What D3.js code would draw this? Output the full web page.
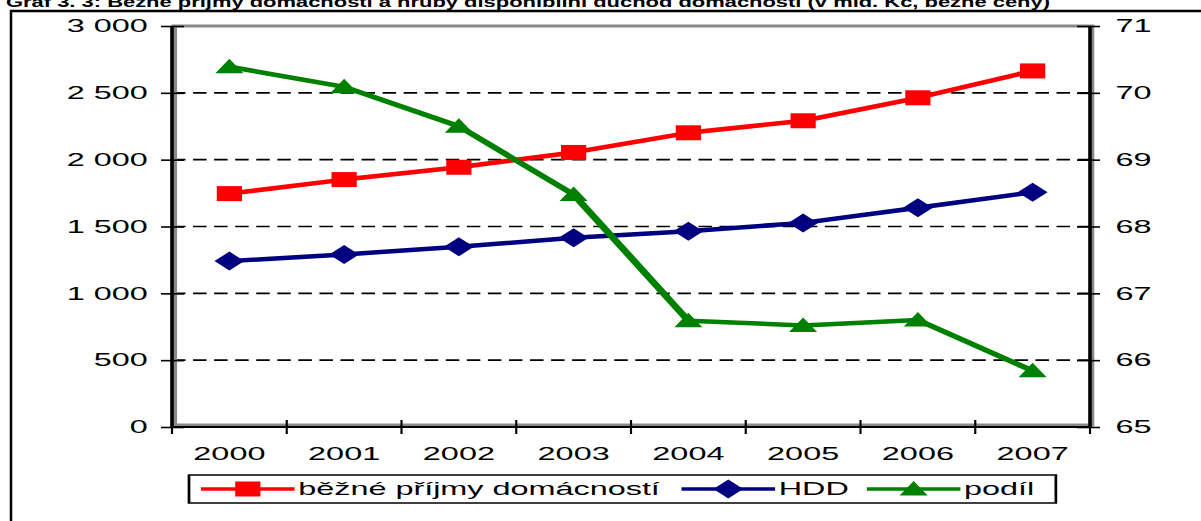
<!DOCTYPE html>
<html>
<head>
<meta charset="utf-8">
<script src="https://cdn.jsdelivr.net/npm/d3@7"></script>
<style>
  html, body { margin: 0; padding: 0; background: #fff; }
  svg { display: block; }
  text { font-family: Arial, "Liberation Sans", sans-serif; }
</style>
</head>
<body>
<svg id="chart" width="1201" height="521"></svg>
<script>
// ---- data ----
const years = ["2000", "2001", "2002", "2003", "2004", "2005", "2006", "2007"];
const prijmy = [1746, 1851, 1943, 2054, 2201, 2291, 2463, 2664];   // běžné příjmy domácností
const hdd    = [1241, 1291, 1348, 1416, 1465, 1527, 1640, 1756];   // HDD
const podil  = [70.39, 70.09, 69.50, 68.48, 66.59, 66.52, 66.60, 65.84]; // podíl (right axis)
const leftTicks = [0, 500, 1000, 1500, 2000, 2500, 3000];
const leftTickLabels = ["0", "500", "1 000", "1 500", "2 000", "2 500", "3 000"];
const rightTicks = [65, 66, 67, 68, 69, 70, 71];
const rightTickLabels = ["65", "66", "67", "68", "69", "70", "71"];
const seriesNames = ["běžné příjmy domácností", "HDD", "podíl"];
const seriesColors = ["#ff0000", "#000080", "#008000"];
const titleText = "Graf 3. 3: Běžné příjmy domácností a hrubý disponibilní důchod domácností (v mld. Kč, běžné ceny)";

// ---- layout ----
const SX = 1.8; // the original picture is stretched horizontally
const svg = d3.select("#chart");
svg.append("rect").attr("width", 1201).attr("height", 521).attr("fill", "#fff");

// title (cut off at top, as in the original)
svg.append("text")
  .attr("x", 6).attr("y", 7)
  .attr("font-size", 15).attr("font-weight", "bold")
  .attr("textLength", 1044).attr("lengthAdjust", "spacingAndGlyphs")
  .text(titleText);

// outer frame
svg.append("rect")
  .attr("x", 11).attr("y", 11).attr("width", 1400).attr("height", 800)
  .attr("fill", "none").attr("stroke", "#000").attr("stroke-width", 2.5);

const g = svg.append("g").attr("transform", `scale(${SX},1)`);

const x0 = 172 / SX, x1 = 1090 / SX, yTop = 26, yBot = 427;
const x = d3.scaleBand().domain(years).range([x0, x1]);
const yL = d3.scaleLinear().domain([0, 3000]).range([yBot, yTop]);
const yR = d3.scaleLinear().domain([65, 71]).range([yBot, yTop]);
const cx = d => x(d) + x.bandwidth() / 2;

// gridlines
g.append("g").selectAll("line")
  .data(leftTicks.filter(v => v > 0 && v < 3000))
  .join("line")
  .attr("x1", x0).attr("x2", x1)
  .attr("y1", d => yL(d)).attr("y2", d => yL(d))
  .attr("stroke", "#000").attr("stroke-width", 1.6)
  .attr("stroke-dasharray", "7.5,4.2");

// plot border (gray)
g.append("rect")
  .attr("x", x0 + 1.3).attr("y", yTop).attr("width", x1 - x0 - 0.4).attr("height", yBot - yTop - 2)
  .attr("fill", "none").attr("stroke", "#8a8a8a").attr("stroke-width", 3);

// axes
const fmtIdx = (arr, labels) => (d) => labels[arr.indexOf(d)];
const axL = g.append("g").attr("transform", `translate(${x0},0)`)
  .call(d3.axisLeft(yL).tickValues(leftTicks).tickFormat(fmtIdx(leftTicks, leftTickLabels))
    .tickSize(11 / SX).tickPadding(7.3));
const axR = g.append("g").attr("transform", `translate(${x1},0)`)
  .call(d3.axisRight(yR).tickValues(rightTicks).tickFormat(fmtIdx(rightTicks, rightTickLabels))
    .tickSize(11 / SX).tickPadding(8));
const axB = g.append("g").attr("transform", `translate(0,${yBot})`)
  .call(d3.axisBottom(x).tickSize(0).tickPadding(20));

[axL, axR, axB].forEach(a => {
  a.attr("font-family", "Arial, 'Liberation Sans', sans-serif").attr("font-size", 18);
  a.select(".domain").remove();
  a.selectAll("text").attr("fill", "#000");
  a.selectAll(".tick line").attr("stroke", "#000").attr("stroke-width", 1.6);
});
axL.selectAll(".tick line").attr("x1", 12 / SX).attr("x2", -11 / SX);
axR.selectAll(".tick line").attr("x1", -13 / SX).attr("x2", 10 / SX);

// x boundary ticks
g.append("g").selectAll("line")
  .data(d3.range(years.length + 1))
  .join("line")
  .attr("x1", i => x0 + i * x.step()).attr("x2", i => x0 + i * x.step())
  .attr("y1", yBot - 7).attr("y2", yBot + 7)
  .attr("stroke", "#000").attr("stroke-width", 1.2);

// black axis lines
g.append("line").attr("x1", x0).attr("x2", x0).attr("y1", yTop).attr("y2", yBot + 1)
  .attr("stroke", "#000").attr("stroke-width", 2);
g.append("line").attr("x1", x1).attr("x2", x1).attr("y1", yTop).attr("y2", yBot + 1)
  .attr("stroke", "#000").attr("stroke-width", 2);
g.append("line").attr("x1", x0).attr("x2", x1).attr("y1", yBot).attr("y2", yBot)
  .attr("stroke", "#000").attr("stroke-width", 2.2);

// marker symbol types
const diamondType = { draw(ctx) { ctx.moveTo(0, -9.5); ctx.lineTo(8.3, 0); ctx.lineTo(0, 9.5); ctx.lineTo(-8.3, 0); ctx.closePath(); } };
const triangleType = { draw(ctx) { ctx.moveTo(0, -8); ctx.lineTo(7.8, 6.5); ctx.lineTo(-7.8, 6.5); ctx.closePath(); } };
const squareType = { draw(ctx) { ctx.rect(-7, -7.5, 14, 15); } };
const symbols = [squareType, diamondType, triangleType];

const series = [
  { values: prijmy, y: yL },
  { values: hdd, y: yL },
  { values: podil, y: yR }
];

series.forEach((s, si) => {
  const data = years.map((yr, i) => ({ yr, v: s.values[i] }));
  const line = d3.line().x(d => cx(d.yr)).y(d => s.y(d.v));
  g.append("path").datum(data)
    .attr("d", line).attr("fill", "none")
    .attr("stroke", seriesColors[si]).attr("stroke-width", 4.5)
    .attr("stroke-linejoin", "round");
  g.append("g").selectAll("path")
    .data(data).join("path")
    .attr("d", d3.symbol().type(symbols[si]))
    .attr("transform", d => `translate(${cx(d.yr)},${s.y(d.v)})`)
    .attr("fill", seriesColors[si]);
});

// legend
const lg = g.append("g");
const lgBox = lg.append("rect")
  .attr("x", 189 / SX).attr("y", 475).attr("height", 28)
  .attr("fill", "#fff").attr("stroke", "#000").attr("stroke-width", 1.5);
let lx = 201 / SX;
const ly = 489;
const gaps = [12, 10, 0];
seriesNames.forEach((name, si) => {
  lg.append("line").attr("x1", lx).attr("x2", lx + 52).attr("y1", ly).attr("y2", ly)
    .attr("stroke", seriesColors[si]).attr("stroke-width", 3.5);
  lg.append("path").attr("d", d3.symbol().type(symbols[si])())
    .attr("transform", `translate(${lx + 26},${ly})`).attr("fill", seriesColors[si]);
  const t = lg.append("text").attr("x", lx + 54).attr("y", ly).attr("dy", "0.36em")
    .attr("font-size", 18).attr("fill", "#000").text(name);
  lx = lx + 54 + t.node().getComputedTextLength() + gaps[si];
});
lgBox.attr("width", lx + 12 - 189 / SX);
</script>
</body>
</html>
